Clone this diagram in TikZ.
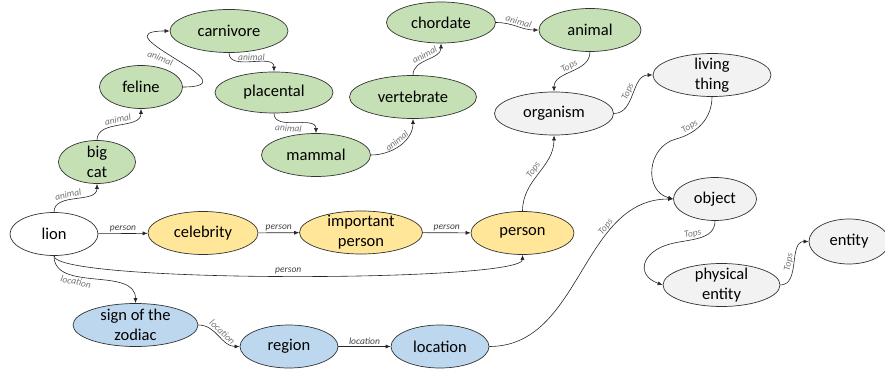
\documentclass[tikz,border=0pt]{standalone}
\usepackage{fontspec}
\setmainfont{Carlito}
\usetikzlibrary{shapes.geometric,arrows.meta}

\definecolor{animalfill}{HTML}{C5E0B4}
\definecolor{personfill}{HTML}{FFE699}
\definecolor{placefill}{HTML}{BDD7EE}
\definecolor{topfill}{HTML}{F2F2F2}

\tikzset{
  concept/.style={ellipse, draw=black!80, line width=0.7pt, inner xsep=0pt, inner ysep=-8pt,
    align=center, font=\fontsize{16.5}{20}\selectfont, minimum height=43pt},
  animalc/.style={concept, fill=animalfill},
  personc/.style={concept, fill=personfill},
  placec/.style={concept, fill=placefill},
  topc/.style={concept, fill=topfill},
  rel/.style={-{Latex[length=5pt,width=4pt]}, line width=0.6pt, draw=black!85},
  lbltext/.style={font=\fontsize{9.5}{11}\selectfont\itshape, text=black!55, inner sep=1.5pt},
  lbl/.style={lbltext, sloped},
  plbl/.style={lbl, text=black!75},
}

\begin{document}
\begin{tikzpicture}[x=1pt,y=1pt]
  \useasboundingbox (0,0) rectangle (885,375);

  % animal chain
  \node[concept, fill=white, minimum width=88pt] (lion) at (54,141) {lion};
  \node[animalc, minimum width=77pt] (bigcat) at (97,213) {big\\cat};
  \node[animalc, minimum width=83pt] (feline) at (141,288) {feline};
  \node[animalc, minimum width=118pt] (carnivore) at (229,344) {carnivore};
  \node[animalc, minimum width=118pt, minimum height=41pt] (placental) at (274,282.5) {placental};
  \node[animalc, minimum width=109pt] (mammal) at (316,220) {mammal};
  \node[animalc, minimum width=127pt] (vertebrate) at (413,278) {vertebrate};
  \node[animalc, minimum width=109pt, minimum height=41pt] (chordate) at (441,352.5) {chordate};
  \node[animalc, minimum width=102pt] (animal) at (590,345) {animal};

  % top concepts
  \node[topc, minimum width=119pt] (organism) at (554,261.5) {organism};
  \node[topc, minimum width=118pt] (living) at (712,300) {living\\thing};
  \node[topc, minimum width=83pt] (object) at (715,176) {object};
  \node[topc, minimum width=117pt] (physical) at (721.5,90) {physical\\entity};
  \node[topc, minimum width=80pt, minimum height=45pt] (entity) at (849,133.5) {entity};

  % person chain
  \node[personc, minimum width=110pt] (celebrity) at (203,142) {celebrity};
  \node[personc, minimum width=123pt] (important) at (361,142.5) {important\\person};
  \node[personc, minimum width=103pt] (person) at (522.5,142) {person};

  % location chain
  \node[placec, minimum width=125pt] (zodiac) at (135.5,50) {sign of the\\zodiac};
  \node[placec, minimum width=98pt] (region) at (289,28.5) {region};
  \node[placec, minimum width=98pt] (location) at (440,28.5) {location};

  % bends of the S-shaped links on the right
  \coordinate (livingbend) at (676,236);
  \coordinate (objectbend) at (670,131);

  % animal links
  \draw[rel] (lion.north) to[out=90,in=-90] node[lbl, above, pos=0.4] {animal} (bigcat.south);
  \draw[rel] (bigcat.north) to[out=90,in=-90] node[lbl, above] {animal} (feline.south);
  \draw[rel] (feline.east) to[out=0,in=180,looseness=3.3] node[lbltext, rotate=-22, below left=0pt, pos=0.5] {animal} (carnivore.west);
  \draw[rel] (carnivore.south) to[out=-90,in=90] node[lbl, above] {animal} (placental.north);
  \draw[rel] (placental.south) to[out=-90,in=90] node[lbl, below, pos=0.4] {animal} (mammal.north);
  \draw[rel] (mammal.east) to[out=0,in=-90] node[lbl, above] {animal} (vertebrate.south);
  \draw[rel] (vertebrate.north) to[out=90,in=-90] node[lbl, above] {animal} (chordate.south);
  \draw[rel] (chordate.east) to[out=0,in=180] node[lbl, above] {animal} (animal.west);

  % Tops links
  \draw[rel] (animal.south) to[out=-90,in=90] node[lbl, above] {Tops} (organism.north);
  \draw[rel] (organism.east) to[out=0,in=180] node[lbl, above] {Tops} (living.west);
  \draw[rel] (living.south) to[out=-90,in=15] node[lbl, above, pos=0.7] {Tops} (livingbend)
    to[out=195,in=165,looseness=1.3] (object.west);
  \draw[rel] (object.south) to[out=-90,in=15] node[lbl, above, pos=0.6] {Tops} (objectbend)
    to[out=195,in=160,looseness=1.8] (physical.west);
  \draw[rel] (physical.east) to[out=0,in=180] node[lbl, above] {Tops} (entity.west);
  \draw[rel] (person.north) to[out=90,in=-90] node[lbl, above] {Tops} (organism.south);
  \draw[rel] (location.east) to[out=0,in=180] node[lbl, above, pos=0.7] {Tops} (object.west);

  % person links
  \draw[rel] (lion) -- node[plbl, above] {person} (celebrity);
  \draw[rel] (celebrity) -- node[plbl, above] {person} (important);
  \draw[rel] (important) -- node[plbl, above] {person} (person);
  \draw[rel] (lion.south) to[out=-90,in=-90,looseness=0.15] node[plbl, above] {person} (person.south);

  % location links
  \draw[rel] (lion.south) to[out=-90,in=90] node[lbl, below, pos=0.35] {location} (zodiac.north);
  \draw[rel] (zodiac.east) to[out=0,in=180] node[lbl, above] {location} (region.west);
  \draw[rel] (region) -- node[plbl, above] {location} (location);
\end{tikzpicture}
\end{document}
